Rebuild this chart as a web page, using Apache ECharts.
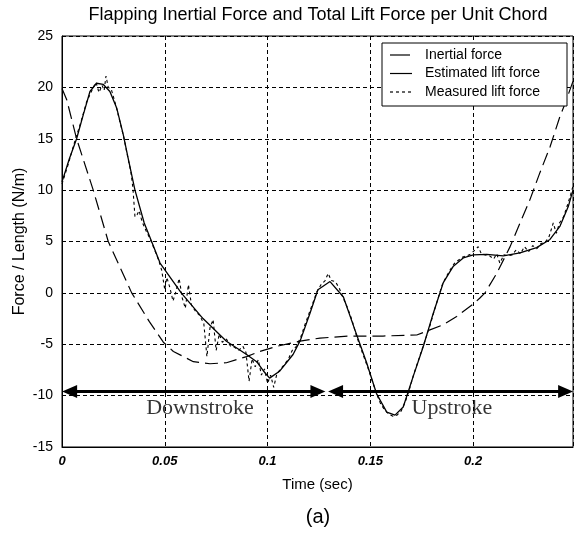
<!DOCTYPE html>
<html>
<head>
<meta charset="utf-8">
<script src="https://cdn.jsdelivr.net/npm/echarts@6/dist/echarts.min.js"></script>
<style>html,body{margin:0;padding:0;background:#fff;}#c{width:580px;height:534px;}</style>
</head>
<body>
<div id="c"></div>
<script>
// ---- data ----
var xTicks = [0, 0.05, 0.1, 0.15, 0.2];
var yTicks = [-15, -10, -5, 0, 5, 10, 15, 20, 25];
var seriesNames = ['Inertial force', 'Estimated lift force', 'Measured lift force'];

var inertialT = [0, 0.0023, 0.0071, 0.0152, 0.0225, 0.0339, 0.0425, 0.0493, 0.0542, 0.0639, 0.072, 0.080, 0.0898, 0.0963, 0.1045, 0.1158, 0.1255, 0.140, 0.1562, 0.1726, 0.179, 0.1855, 0.192, 0.200, 0.2033, 0.2058, 0.2115, 0.218, 0.2228, 0.2277, 0.2325, 0.2374, 0.2423, 0.2447, 0.2486];
var inertialF = [19.9, 18.8, 15.0, 10.0, 5.0, 0.0, -2.8, -4.8, -5.7, -6.7, -6.9, -6.8, -6.2, -5.7, -5.2, -4.7, -4.4, -4.2, -4.2, -4.1, -3.6, -3.1, -2.3, -1.1, -0.5, 0.0, 1.9, 4.5, 6.8, 9.1, 11.7, 14.2, 17.2, 18.4, 20.6];

var estT = [0, 0.0035, 0.0071, 0.0103, 0.0136, 0.0168, 0.020, 0.0233, 0.0266, 0.0298, 0.0325, 0.0355, 0.040, 0.0436, 0.0477, 0.058, 0.0686, 0.080, 0.0898, 0.0947, 0.098, 0.101, 0.106, 0.1124, 0.116, 0.1206, 0.1245, 0.1304, 0.1369, 0.1425, 0.1482, 0.153, 0.158, 0.162, 0.166, 0.1709, 0.1758, 0.1806, 0.1855, 0.1904, 0.1952, 0.2001, 0.2066, 0.2147, 0.2228, 0.2309, 0.2374, 0.2423, 0.2463, 0.2486];
var estF = [10.8, 13.0, 15.0, 17.3, 19.6, 20.4, 20.3, 19.6, 18.0, 15.4, 12.8, 10.0, 6.8, 5.0, 2.9, 0.0, -2.5, -4.7, -6.0, -6.7, -7.6, -8.3, -7.6, -6.0, -4.6, -2.0, 0.3, 1.1, -0.4, -3.6, -6.8, -9.8, -11.6, -11.9, -11.1, -8.1, -5.2, -2.0, 1.0, 2.6, 3.4, 3.7, 3.75, 3.6, 3.9, 4.4, 5.2, 6.5, 8.4, 10.0];

var measT = [0, 0.003, 0.006, 0.009, 0.012, 0.015, 0.0165, 0.018, 0.0195, 0.0205, 0.0214, 0.0225, 0.024, 0.026, 0.028, 0.030, 0.032, 0.0335, 0.0345, 0.0355, 0.0365, 0.0375, 0.039, 0.041, 0.043, 0.045, 0.047, 0.0485, 0.050, 0.051, 0.0525, 0.054, 0.0555, 0.057, 0.0585, 0.060, 0.0615, 0.063, 0.065, 0.067, 0.069, 0.0705, 0.072, 0.0735, 0.075, 0.0765, 0.078, 0.080, 0.082, 0.084, 0.086, 0.088, 0.0895, 0.091, 0.0925, 0.094, 0.0955, 0.097, 0.0985, 0.100, 0.1015, 0.103, 0.1045, 0.106, 0.108, 0.110, 0.112, 0.114, 0.116, 0.118, 0.120, 0.122, 0.124, 0.126, 0.128, 0.1295, 0.131, 0.133, 0.135, 0.137, 0.139, 0.141, 0.143, 0.145, 0.147, 0.149, 0.151, 0.153, 0.155, 0.157, 0.159, 0.161, 0.163, 0.165, 0.167, 0.169, 0.171, 0.173, 0.175, 0.177, 0.179, 0.181, 0.183, 0.185, 0.187, 0.189, 0.191, 0.193, 0.195, 0.197, 0.199, 0.2025, 0.204, 0.206, 0.208, 0.210, 0.2115, 0.213, 0.215, 0.217, 0.219, 0.221, 0.223, 0.225, 0.227, 0.229, 0.231, 0.233, 0.235, 0.237, 0.239, 0.2405, 0.242, 0.244, 0.246, 0.2475, 0.2486];
var measF = [10.6, 12.5, 14.6, 16.5, 18.6, 19.9, 20.5, 19.5, 20.2, 19.7, 21.1, 20.0, 19.8, 18.4, 16.8, 15.2, 13.2, 11.8, 10.2, 7.4, 7.6, 8.0, 6.9, 6.0, 5.2, 4.2, 3.2, 2.2, 0.3, 1.5, 0.5, -0.8, 0.2, 1.4, -0.5, -1.5, 0.8, -1.2, -1.8, -2.2, -3.0, -6.2, -3.4, -2.6, -5.6, -4.0, -4.8, -4.5, -5.2, -5.3, -5.6, -5.2, -5.8, -8.6, -6.4, -7.2, -6.5, -8.0, -7.4, -8.8, -8.0, -9.2, -7.9, -7.5, -7.0, -6.5, -5.6, -5.2, -4.4, -3.2, -2.1, -1.0, 0.1, 0.8, 1.2, 1.9, 1.2, 1.1, 0.4, -0.6, -1.5, -2.6, -4.0, -5.2, -6.3, -7.4, -8.6, -9.8, -10.8, -11.4, -11.8, -12.0, -11.9, -11.5, -10.6, -9.4, -8.0, -6.8, -5.6, -4.4, -3.2, -1.8, -0.5, 0.8, 1.6, 2.3, 2.9, 3.2, 3.5, 3.6, 3.8, 4.5, 3.8, 3.7, 3.6, 3.3, 3.8, 2.9, 3.7, 3.6, 3.7, 4.2, 3.8, 4.5, 4.0, 4.6, 4.3, 4.8, 4.9, 5.5, 6.8, 5.8, 6.8, 7.4, 8.6, 9.6, 10.4];

// annotations (data coordinates)
var strokeLabels = ['Downstroke', 'Upstroke'];
var strokeLabelX = [0.0671, 0.1897];
var strokeLabelY = [-11.2, -11.2];
var arrowY = -9.6;
var downArrowX = [0.0037, 0.1245];
var upArrowX = [0.1331, 0.2450];

var xMin = 0, xMax = 0.2486, yMin = -15, yMax = 25;

function pairs(t, v) { return t.map(function (x, i) { return [x, v[i]]; }); }

var chart = echarts.init(document.getElementById('c'), null, { renderer: 'canvas' });
var FONT = 'Liberation Sans, Arial, sans-serif';

// custom legend (box + samples + names)
var legendX = 382, legendY = 43, legendW = 185, legendH = 63, rowH = 18.5;
var legendDash = [null, null, [3, 3]];
var legendGraphics = [{ type: 'rect', shape: { x: legendX, y: legendY, width: legendW, height: legendH }, style: { fill: '#fff', stroke: '#000', lineWidth: 1 }, z: 100 }];
seriesNames.forEach(function (n, i) {
  var cy = legendY + 12 + i * rowH;
  legendGraphics.push({ type: 'line', shape: { x1: legendX + 8, y1: cy, x2: legendX + (i === 0 ? 28 : 30), y2: cy }, style: { stroke: '#000', lineWidth: 1.2, lineDash: legendDash[i] }, z: 101 });
  legendGraphics.push({ type: 'text', x: legendX + 43, y: cy, style: { text: n, fontFamily: FONT, fontSize: 14, fill: '#000', verticalAlign: 'middle' }, z: 101 });
});

chart.setOption({
  animation: false,
  backgroundColor: '#fff',
  grid: { left: 62, right: 7, top: 36, bottom: 87, show: true, borderColor: '#000', borderWidth: 1 },
  xAxis: {
    type: 'value', min: xMin, max: xMax, interval: 0.05,
    name: 'Time (sec)', nameLocation: 'middle', nameGap: 30,
    nameTextStyle: { fontFamily: FONT, fontSize: 15, color: '#000' },
    axisLine: { show: true, onZero: false, lineStyle: { color: '#000', width: 1 } },
    axisTick: { show: false },
    axisLabel: { showMaxLabel: false, margin: 8, color: '#000', fontFamily: FONT, fontSize: 13, fontStyle: 'italic', fontWeight: 'bold',
      formatter: function (v) { return xTicks.indexOf(Math.round(v * 100) / 100) >= 0 ? String(Math.round(v * 100) / 100) : ''; } },
    splitLine: { show: true, lineStyle: { color: '#000', type: [4, 3], width: 1 } }
  },
  yAxis: {
    type: 'value', min: yMin, max: yMax, interval: 5,
    name: 'Force / Length (N/m)', nameLocation: 'middle', nameGap: 34, nameMoveOverlap: false,
    nameTextStyle: { fontFamily: FONT, fontSize: 16, color: '#000' },
    axisLine: { show: true, onZero: false, lineStyle: { color: '#000', width: 1 } },
    axisTick: { show: false },
    axisLabel: { margin: 9, color: '#000', fontFamily: FONT, fontSize: 14,
      formatter: function (v) { return yTicks.indexOf(v) >= 0 ? String(v) : ''; } },
    splitLine: { show: true, lineStyle: { color: '#000', type: [4, 3], width: 1 } }
  },
  graphic: [
    { type: 'text', x: 318, y: 6, style: { text: 'Flapping Inertial Force and Total Lift Force per Unit Chord', fontFamily: FONT, fontSize: 18, fill: '#000', align: 'center' } },
    { type: 'text', x: 318, y: 507, style: { text: '(a)', fontFamily: FONT, fontSize: 20, fill: '#000', align: 'center' } }
  ].concat(legendGraphics),
  series: [
    {
      name: seriesNames[0], type: 'line', showSymbol: false, symbol: 'none',
      data: pairs(inertialT, inertialF),
      lineStyle: { color: '#000', width: 1.2, type: [13, 6] }, itemStyle: { color: '#000' }
    },
    {
      name: seriesNames[1], type: 'line', showSymbol: false, symbol: 'none',
      data: pairs(estT, estF),
      lineStyle: { color: '#000', width: 1.3, type: 'solid' }, itemStyle: { color: '#000' }
    },
    {
      name: seriesNames[2], type: 'line', showSymbol: false, symbol: 'none',
      data: pairs(measT, measF),
      lineStyle: { color: '#000', width: 1.1, type: [3, 3] }, itemStyle: { color: '#000' },
      markLine: {
        silent: true, symbol: ['triangle', 'triangle'], symbolSize: [13, 15],
        lineStyle: { color: '#000', width: 3, type: 'solid' },
        label: { show: false },
        data: [
          [{ coord: [downArrowX[0], arrowY] }, { coord: [downArrowX[1], arrowY] }],
          [{ coord: [upArrowX[0], arrowY] }, { coord: [upArrowX[1], arrowY] }]
        ]
      }
    },
    {
      name: 'labels', type: 'scatter', symbolSize: 0, silent: true,
      data: strokeLabels.map(function (s, i) { return [strokeLabelX[i], strokeLabelY[i], s]; }),
      label: { show: true, position: 'inside', formatter: function (p) { return p.value[2]; },
        fontFamily: 'Liberation Serif, Times New Roman, serif', fontSize: 22, color: '#000' }
    }
  ]
});
</script>
</body>
</html>
